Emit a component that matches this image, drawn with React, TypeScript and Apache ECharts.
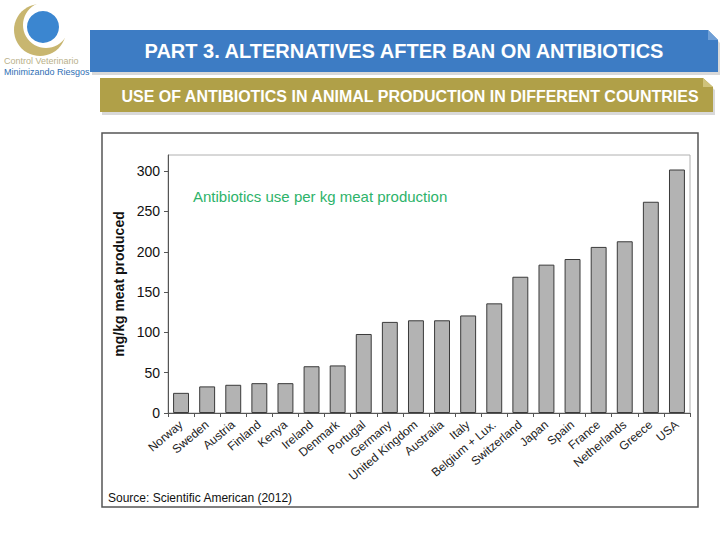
import React, { useEffect, useRef } from "react";
import * as echarts from "echarts";

const countries = [
  "Norway", "Sweden", "Austria", "Finland", "Kenya", "Ireland", "Denmark",
  "Portugal", "Germany", "United Kingdom", "Australia", "Italy",
  "Belgium + Lux.", "Switzerland", "Japan", "Spain", "France",
  "Netherlands", "Greece", "USA",
];
const usage = [25, 33, 35, 37, 37, 58, 59, 98, 113, 115, 115, 121, 136, 169, 184, 191, 206, 213, 262, 302];
const yTicks = [0, 50, 100, 150, 200, 250, 300];

const titleMain = "PART 3. ALTERNATIVES AFTER BAN ON ANTIBIOTICS";
const titleSub = "USE OF ANTIBIOTICS IN ANIMAL PRODUCTION IN DIFFERENT COUNTRIES";
const annotation = "Antibiotics use per kg meat production";
const sourceText = "Source: Scientific American (2012)";
const yAxisName = "mg/kg meat produced";

export default function App() {
  const ref = useRef<HTMLDivElement>(null);
  useEffect(() => {
    document.body.style.margin = "0";
    const chart = echarts.init(ref.current!, null, { renderer: "svg" });
    const font = "'Liberation Sans', Arial, sans-serif";
    chart.setOption({
      animation: false,
      backgroundColor: "#ffffff",
      textStyle: { fontFamily: font },
      grid: {
        left: 168, top: 155, right: 30, bottom: 127,
        show: true, borderColor: "#b0b0b0", borderWidth: 1,
      },
      xAxis: {
        type: "category",
        data: countries,
        boundaryGap: true,
        axisLine: { lineStyle: { color: "#555", width: 1 } },
        axisTick: { show: true, length: 4, lineStyle: { color: "#555" } },
        axisLabel: {
          rotate: 40, fontSize: 12, color: "#222", margin: 10, interval: 0, fontFamily: font,
        },
      },
      yAxis: {
        type: "value",
        min: 0, max: 320, interval: 50,
        name: yAxisName,
        nameLocation: "middle",
        nameGap: 32,
        nameRotate: 90,
        nameTextStyle: { fontSize: 14, fontWeight: "bold", color: "#111", fontFamily: font },
        axisLine: { show: true, lineStyle: { color: "#555", width: 1 } },
        axisTick: { show: true, length: 4, lineStyle: { color: "#555" } },
        axisLabel: {
          fontSize: 14, color: "#111", margin: 8, showMaxLabel: false, fontFamily: font,
          formatter: (v: number) => (yTicks.includes(v) ? String(v) : ""),
        },
        splitLine: { show: false },
      },
      series: [
        {
          type: "bar",
          data: usage,
          barWidth: "61%",
          itemStyle: { color: "#b3b3b3", borderColor: "#3a3a3a", borderWidth: 1 },
        },
      ],
      graphic: [
        // header logo
        { type: "circle", shape: { cx: 40, cy: 30, r: 26 }, style: { fill: "#c8b670" }, z: 1 },
        { type: "circle", shape: { cx: 46, cy: 25, r: 23 }, style: { fill: "#ffffff" }, z: 2 },
        { type: "circle", shape: { cx: 43, cy: 27, r: 16 }, style: { fill: "#3b86d0" }, z: 3 },
        {
          type: "text", left: 4, top: 56, z: 3,
          style: { text: "Control Veterinario", fontSize: 9, fill: "#b9b08a", fontFamily: font },
        },
        {
          type: "text", left: 4, top: 67, z: 3,
          style: { text: "Minimizando Riesgos", fontSize: 9, fill: "#2f6fb5", fontFamily: font },
        },
        // blue banner shadow + banner
        {
          type: "polygon", z: 1,
          shape: { points: [[92, 33], [710, 33], [720, 43], [720, 75], [92, 75]] },
          style: { fill: "rgba(0,0,0,0.15)" },
        },
        {
          type: "polygon", z: 2,
          shape: { points: [[90, 30], [708, 30], [718, 40], [718, 72], [90, 72]] },
          style: { fill: "#3d7cc4" },
        },
        {
          type: "polygon", z: 3,
          shape: { points: [[708, 30], [718, 40], [708, 40]] },
          style: { fill: "#6f9fd6" },
        },
        {
          type: "text", x: 404, y: 51, z: 4,
          style: {
            text: titleMain, fontSize: 20, fontWeight: "bold", fill: "#ffffff",
            align: "center", verticalAlign: "middle", fontFamily: font,
          },
        },
        // gold banner
        {
          type: "polygon", z: 1,
          shape: { points: [[102, 81], [705, 81], [715, 90], [715, 115], [102, 115]] },
          style: { fill: "rgba(0,0,0,0.15)" },
        },
        {
          type: "polygon", z: 2,
          shape: { points: [[100, 78], [703, 78], [713, 87], [713, 112], [100, 112]] },
          style: { fill: "#b0a048" },
        },
        {
          type: "polygon", z: 3,
          shape: { points: [[703, 78], [713, 87], [703, 87]] },
          style: { fill: "#cfc27a" },
        },
        {
          type: "text", x: 410, y: 96, z: 4,
          style: {
            text: titleSub, fontSize: 16, fontWeight: "bold", fill: "#ffffff",
            align: "center", verticalAlign: "middle", fontFamily: font,
          },
        },
        // outer chart frame
        {
          type: "rect", z: 0,
          shape: { x: 102, y: 133, width: 596, height: 374 },
          style: { fill: "none", stroke: "#555555", lineWidth: 1.5 },
        },
        {
          type: "text", left: 193, top: 189, z: 4,
          style: { text: annotation, fontSize: 15, fill: "#2db36a", fontFamily: font },
        },
        {
          type: "text", left: 108, top: 492, z: 4,
          style: { text: sourceText, fontSize: 12, fill: "#111", fontFamily: font },
        },
      ],
    });
    return () => chart.dispose();
  }, []);
  return (
    <div
      ref={ref}
      style={{ position: "absolute", left: 0, top: 0, width: 720, height: 540 }}
    />
  );
}
